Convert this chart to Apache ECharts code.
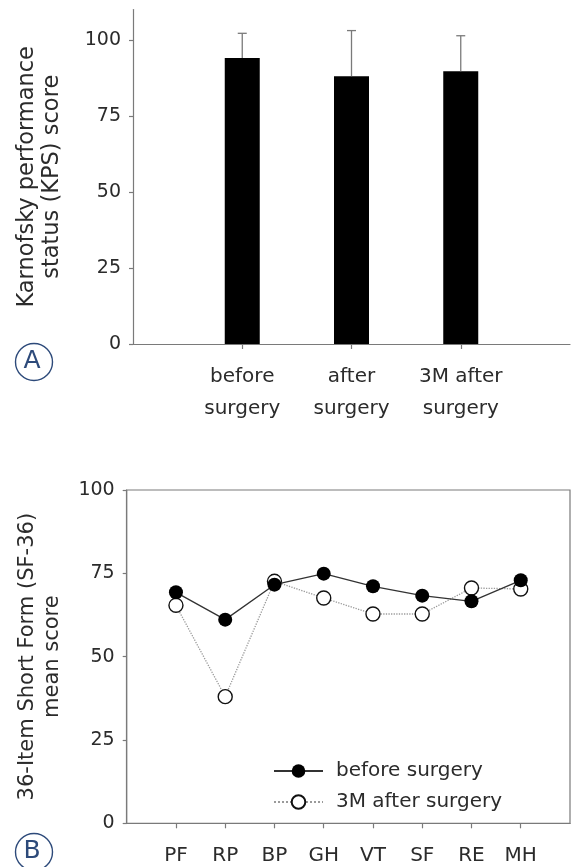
<!DOCTYPE html>
<html>
<head>
<meta charset="utf-8">
<script src="https://cdn.jsdelivr.net/npm/echarts@6/dist/echarts.min.js"></script>
<style>
html,body{margin:0;padding:0;background:#fff;}
#chart{width:573px;height:867px;}
</style>
</head>
<body>
<div id="chart"></div>
<script>
// ---- Panel A: KPS score ----
var kpsCategories = ['before\nsurgery', 'after\nsurgery', '3M after\nsurgery'];
var kpsMean = [94.1, 88.1, 89.7];
var kpsSD = [8.1, 15.0, 11.7];
var kpsTicks = [0, 25, 50, 75, 100];

// ---- Panel B: SF-36 ----
var sfCategories = ['PF', 'RP', 'BP', 'GH', 'VT', 'SF', 'RE', 'MH'];
var sfBefore = [69.3, 61.1, 71.6, 74.9, 71.1, 68.3, 66.6, 72.9];
var sf3MAfter = [65.4, 38.0, 72.6, 67.6, 62.8, 62.8, 70.6, 70.3];
var sfTicks = [0, 25, 50, 75, 100];

var FONT = 'DejaVu Sans';
var TXT = '#2b2b2b';
var AX = '#7a7a7a';
var NAVY = '#2d4a7a';

var catA = [''].concat(kpsCategories).concat(['']);
var barA = ['-'].concat(kpsMean).concat(['-']);
var errA = kpsMean.map(function (m, i) { return [i + 1, m, m + kpsSD[i]]; });
var catB = [''].concat(sfCategories).concat(['']);
var lineBefore = ['-'].concat(sfBefore).concat(['-']);
var line3M = ['-'].concat(sf3MAfter).concat(['-']);

var chart = echarts.init(document.getElementById('chart'), null, {renderer: 'canvas'});
chart.setOption({
  animation: false,
  backgroundColor: '#fff',
  textStyle: {fontFamily: FONT, color: TXT},
  grid: [
    {left: 133, right: -6, top: 9.6, bottom: 523, containLabel: false},
    {left: 126.7, right: 1.5, top: 490, bottom: 43.7, show: true, borderColor: AX, borderWidth: 1.2, containLabel: false}
  ],
  xAxis: [
    {
      type: 'category', gridIndex: 0, data: catA, boundaryGap: false,
      axisLine: {lineStyle: {color: AX, width: 1.2}},
      axisTick: {show: true, length: 5, inside: false, lineStyle: {color: AX, width: 1.2},
        interval: function (idx) { return idx >= 1 && idx <= kpsCategories.length; }},
      axisLabel: {interval: 0, fontFamily: FONT, fontSize: 20, color: TXT, lineHeight: 32, margin: 17},
      splitLine: {show: false}
    },
    {
      type: 'category', gridIndex: 1, data: catB, boundaryGap: false,
      axisLine: {lineStyle: {color: AX, width: 1.2}},
      axisTick: {show: true, length: 5, inside: false, lineStyle: {color: AX, width: 1.2},
        interval: function (idx) { return idx >= 1 && idx <= sfCategories.length; }},
      axisLabel: {interval: 0, fontFamily: FONT, fontSize: 20, color: TXT, margin: 22},
      splitLine: {show: false}
    }
  ],
  yAxis: [
    {
      type: 'value', gridIndex: 0, min: 0, max: 110,
      name: 'Karnofsky performance\nstatus (KPS) score',
      nameLocation: 'middle', nameGap: 68,
      nameTextStyle: {fontFamily: FONT, fontSize: 22.5, color: TXT, lineHeight: 25},
      axisLine: {show: true, lineStyle: {color: AX, width: 1.2}},
      axisTick: {show: true, length: 4, lineStyle: {color: AX, width: 1.2}, customValues: kpsTicks},
      axisLabel: {fontFamily: FONT, fontSize: 19, color: TXT, margin: 12, customValues: kpsTicks},
      splitLine: {show: false}
    },
    {
      type: 'value', gridIndex: 1, min: 0, max: 100,
      name: '36-Item Short Form (SF-36)\nmean score',
      nameLocation: 'middle', nameGap: 62,
      nameTextStyle: {fontFamily: FONT, fontSize: 21, color: TXT, lineHeight: 25},
      axisLine: {show: true, lineStyle: {color: AX, width: 1.2}},
      axisTick: {show: true, length: 4, lineStyle: {color: AX, width: 1.2}, customValues: sfTicks},
      axisLabel: {fontFamily: FONT, fontSize: 19, color: TXT, margin: 12, customValues: sfTicks},
      splitLine: {show: false}
    }
  ],
  legend: {
    show: true, orient: 'vertical', left: 268, top: 756,
    itemWidth: 49, itemHeight: 17, itemGap: 11,
    selectedMode: false,
    data: ['before surgery', '3M after surgery'],
    textStyle: {fontFamily: FONT, fontSize: 20, color: TXT, padding: [0, 0, 0, 8]}
  },
  series: [
    {
      type: 'bar', xAxisIndex: 0, yAxisIndex: 0, data: barA, barWidth: 35,
      itemStyle: {color: '#000'}, silent: true
    },
    {
      type: 'custom', xAxisIndex: 0, yAxisIndex: 0, data: errA, silent: true,
      renderItem: function (params, api) {
        var x = api.value(0);
        var base = api.coord([x, api.value(1)]);
        var top = api.coord([x, api.value(2)]);
        var hw = 4.5;
        return {
          type: 'group',
          children: [
            {type: 'line', shape: {x1: base[0], y1: base[1], x2: top[0], y2: top[1]}, style: {stroke: AX, lineWidth: 1.3}},
            {type: 'line', shape: {x1: top[0] - hw, y1: top[1], x2: top[0] + hw, y2: top[1]}, style: {stroke: AX, lineWidth: 1.3}}
          ]
        };
      },
      z: 3
    },
    {
      name: '3M after surgery', type: 'line', xAxisIndex: 1, yAxisIndex: 1, data: line3M,
      symbol: 'circle', symbolSize: 14, showSymbol: true,
      lineStyle: {color: '#9a9a9a', width: 1.3, type: 'dotted'},
      itemStyle: {color: '#fff', borderColor: '#111', borderWidth: 1.4},
      z: 2, silent: true
    },
    {
      name: 'before surgery', type: 'line', xAxisIndex: 1, yAxisIndex: 1, data: lineBefore,
      symbol: 'circle', symbolSize: 14, showSymbol: true,
      lineStyle: {color: '#333', width: 1.3, type: 'solid'},
      itemStyle: {color: '#000', borderColor: '#000', borderWidth: 0},
      z: 3, silent: true
    }
  ],
  graphic: [
    {type: 'circle', left: 13, top: 341, shape: {r: 18.5}, style: {fill: 'none', stroke: NAVY, lineWidth: 1.4}},
    {type: 'text', x: 32, y: 361, style: {text: 'A', font: '25px "DejaVu Sans"', fill: NAVY, align: 'center', verticalAlign: 'middle'}},
    {type: 'circle', left: 13, top: 831, shape: {r: 18.5}, style: {fill: 'none', stroke: NAVY, lineWidth: 1.4}},
    {type: 'text', x: 32, y: 851, style: {text: 'B', font: '25px "DejaVu Sans"', fill: NAVY, align: 'center', verticalAlign: 'middle'}}
  ]
});
</script>
</body>
</html>
